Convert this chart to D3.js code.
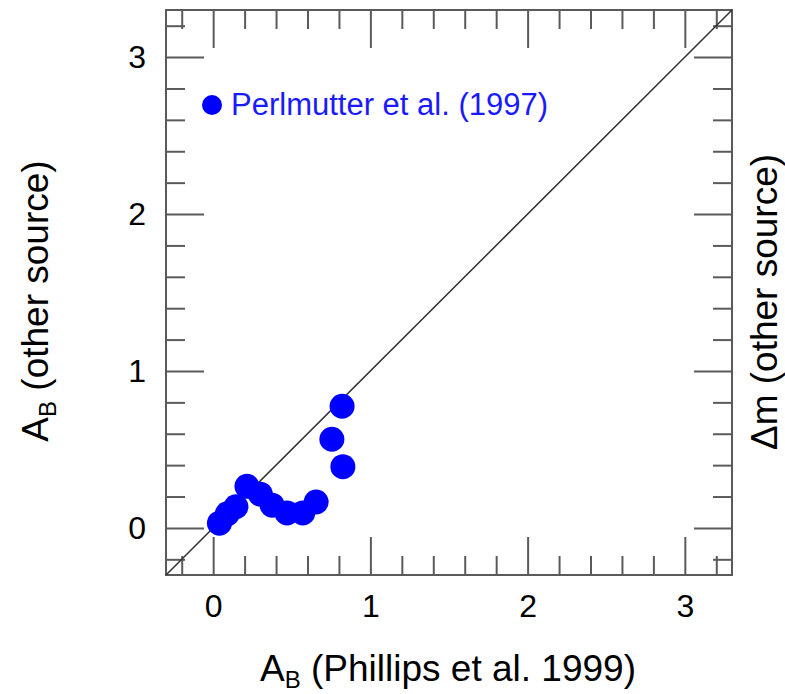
<!DOCTYPE html>
<html lang="en">
<head>
<meta charset="UTF-8">
<title>A_B comparison</title>
<style>
  body { margin: 0; background: #fff; }
  text { font-family: "Liberation Sans", Arial, sans-serif; }
</style>
</head>
<body>
<div id="workspace"></div>
<script src="https://cdn.jsdelivr.net/npm/d3@7"></script>
<script>
    // A_B (Phillips et al. 1999) vs A_B (Perlmutter et al. 1997)
    const abPhillips = [0.04, 0.09, 0.145, 0.215, 0.30, 0.375, 0.47, 0.57, 0.655, 0.755, 0.82, 0.825];
    const abOther    = [0.03, 0.09, 0.135, 0.265, 0.215, 0.145, 0.095, 0.095, 0.165, 0.565, 0.775, 0.39];
    const majorTicks = [0, 1, 2, 3];
    const legendLabel = "Perlmutter et al. (1997)";

    const width = 785, height = 694;
    const x = d3.scaleLinear().domain([-0.3, 3.3]).range([166, 732]);
    const y = d3.scaleLinear().domain([-0.3, 3.3]).range([575, 10]);
    const minorTicks = d3.range(-1, 17).map(i => +(i * 0.2).toFixed(1)).filter(v => !Number.isInteger(v));

    const svg = d3.select("#workspace").append("svg")
        .attr("width", width)
        .attr("height", height);

    const tickColor = "#5a5a5a";

    function styleAxis(g) {
        g.select(".domain").remove();
        g.selectAll(".tick line").attr("stroke", tickColor).attr("stroke-width", 2);
        g.selectAll(".tick text")
            .attr("fill", "#000")
            .style("font-size", "32px")
            .style("font-family", "'Liberation Sans', Arial, sans-serif");
    }

    // bottom / top
    svg.append("g").attr("transform", "translate(0,575)")
        .call(d3.axisBottom(x).tickValues(majorTicks).tickSize(-38).tickPadding(19).tickFormat(d3.format("d")))
        .call(styleAxis);
    svg.append("g").attr("transform", "translate(0,575)")
        .call(d3.axisBottom(x).tickValues(minorTicks).tickSize(-19).tickFormat(""))
        .call(styleAxis);
    svg.append("g").attr("transform", "translate(0,10)")
        .call(d3.axisTop(x).tickValues(majorTicks).tickSize(-38).tickFormat(""))
        .call(styleAxis);
    svg.append("g").attr("transform", "translate(0,10)")
        .call(d3.axisTop(x).tickValues(minorTicks).tickSize(-19).tickFormat(""))
        .call(styleAxis);

    // left / right
    svg.append("g").attr("transform", "translate(166,0)")
        .call(d3.axisLeft(y).tickValues(majorTicks).tickSize(-38).tickPadding(20).tickFormat(d3.format("d")))
        .call(styleAxis);
    svg.append("g").attr("transform", "translate(166,0)")
        .call(d3.axisLeft(y).tickValues(minorTicks).tickSize(-19).tickFormat(""))
        .call(styleAxis);
    svg.append("g").attr("transform", "translate(732,0)")
        .call(d3.axisRight(y).tickValues(majorTicks).tickSize(-38).tickFormat(""))
        .call(styleAxis);
    svg.append("g").attr("transform", "translate(732,0)")
        .call(d3.axisRight(y).tickValues(minorTicks).tickSize(-19).tickFormat(""))
        .call(styleAxis);

    // frame
    svg.append("rect")
        .attr("x", x(-0.3)).attr("y", y(3.3))
        .attr("width", x(3.3) - x(-0.3)).attr("height", y(-0.3) - y(3.3))
        .attr("fill", "none").attr("stroke", tickColor).attr("stroke-width", 2);

    // one-to-one line
    svg.append("line")
        .attr("x1", x(-0.3)).attr("y1", y(-0.3))
        .attr("x2", x(3.3)).attr("y2", y(3.3))
        .attr("stroke", "#333").attr("stroke-width", 1.5);

    // points
    svg.append("g").selectAll("circle")
        .data(abPhillips.map((v, i) => [v, abOther[i]]))
        .enter()
        .append("circle")
        .attr("cx", d => x(d[0]))
        .attr("cy", d => y(d[1]))
        .attr("r", 12.5)
        .attr("fill", "#0000ff");

    // legend
    svg.append("circle").attr("cx", 212).attr("cy", 105).attr("r", 10).attr("fill", "#0000ff");
    svg.append("text").attr("x", 231).attr("y", 115)
        .attr("fill", "#1a1aff").style("font-size", "31px")
        .text(legendLabel);

    // axis titles
    const xt = svg.append("text").attr("x", 448).attr("y", 681)
        .attr("text-anchor", "middle").style("font-size", "37px");
    xt.append("tspan").text("A");
    xt.append("tspan").attr("dy", 7).style("font-size", "24px").text("B");
    xt.append("tspan").attr("dy", -7).text(" (Phillips et al. 1999)");

    const yt = svg.append("text")
        .attr("transform", "translate(48,301) rotate(-90)")
        .attr("text-anchor", "middle").style("font-size", "37px");
    yt.append("tspan").text("A");
    yt.append("tspan").attr("dy", 8).style("font-size", "24px").text("B");
    yt.append("tspan").attr("dy", -8).text(" (other source)");

    svg.append("text")
        .attr("transform", "translate(777,302) rotate(-90)")
        .attr("text-anchor", "middle").style("font-size", "37px")
        .text("Δm (other source)");
</script>
</body>
</html>
